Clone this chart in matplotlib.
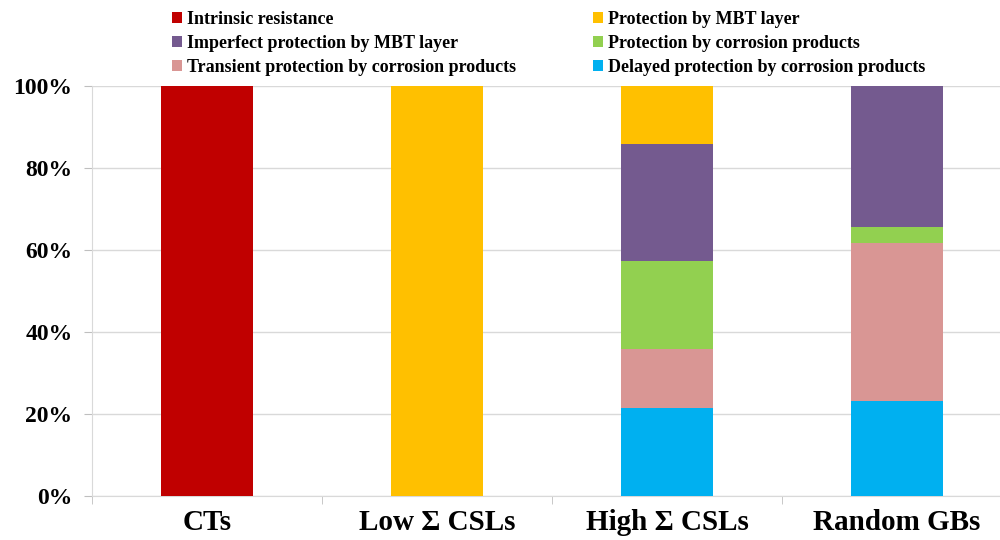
import matplotlib
matplotlib.use("Agg")
import matplotlib.pyplot as plt
import numpy as np

categories = ["CTs", "Low Σ CSLs", "High Σ CSLs", "Random GBs"]
series_names = [
    "Delayed protection by corrosion products",
    "Transient protection by corrosion products",
    "Protection by corrosion products",
    "Imperfect protection by MBT layer",
    "Protection by MBT layer",
    "Intrinsic resistance",
]
delayed = [0, 0, 21.4, 23.1]
transient = [0, 0, 14.3, 38.5]
corrosion = [0, 0, 21.4, 3.8]
imperfect = [0, 0, 28.6, 34.6]
mbt = [0, 100, 14.3, 0]
intrinsic = [100, 0, 0, 0]
yticks = [0, 20, 40, 60, 80, 100]
ytick_labels = ["0%", "20%", "40%", "60%", "80%", "100%"]

colors = {
    "Delayed protection by corrosion products": "#00B0F0",
    "Transient protection by corrosion products": "#D99694",
    "Protection by corrosion products": "#92D050",
    "Imperfect protection by MBT layer": "#745A8F",
    "Protection by MBT layer": "#FFC000",
    "Intrinsic resistance": "#C00000",
}

values = [delayed, transient, corrosion, imperfect, mbt, intrinsic]

plt.rcParams['font.family'] = ['Liberation Serif', 'DejaVu Serif']
plt.rcParams['font.weight'] = 'bold'

fig = plt.figure(figsize=(10, 5.4), dpi=100)
ax = fig.add_axes([0.092, 0.0824, 0.92, 0.759])

x = np.arange(len(categories))
bottom = np.zeros(len(categories))
handles = {}
for name, vals in zip(series_names, values):
    v = np.array(vals, dtype=float)
    b = ax.bar(x, v, width=0.4, bottom=bottom, color=colors[name], label=name, zorder=3)
    handles[name] = b
    bottom += v

ax.set_xlim(-0.5, 3.5)
ax.set_ylim(0, 100)
ax.set_yticks(yticks)
ax.set_yticklabels(ytick_labels, fontsize=17, fontweight='bold')
ax.set_xticks(x)
ax.set_xticklabels(categories, fontsize=21, fontweight='bold')
ax.tick_params(axis='x', which='major', length=0, pad=10)
ax.set_xticks([-0.5, 0.5, 1.5, 2.5], minor=True)
ax.tick_params(axis='x', which='minor', length=6, color='#BFBFBF')
ax.tick_params(axis='y', length=6, color='#BFBFBF', pad=8)
ax.yaxis.grid(True, color='#D9D9D9', linewidth=1, zorder=0)
for s in ['top', 'right']:
    ax.spines[s].set_visible(False)
for s in ['left', 'bottom']:
    ax.spines[s].set_color('#D9D9D9')
ax.set_axisbelow(True)

order = [
    "Intrinsic resistance",
    "Imperfect protection by MBT layer",
    "Transient protection by corrosion products",
    "Protection by MBT layer",
    "Protection by corrosion products",
    "Delayed protection by corrosion products",
]
leg = fig.legend([handles[n] for n in order], order, ncol=2, loc='upper left',
                 bbox_to_anchor=(0.156, 1.01), frameon=False,
                 prop={'family': ['Liberation Serif'], 'weight': 'bold', 'size': 13},
                 handlelength=0.55, handleheight=0.55, handletextpad=0.25,
                 columnspacing=4.3, labelspacing=0.38)

fig.savefig("out.png", dpi=100)
